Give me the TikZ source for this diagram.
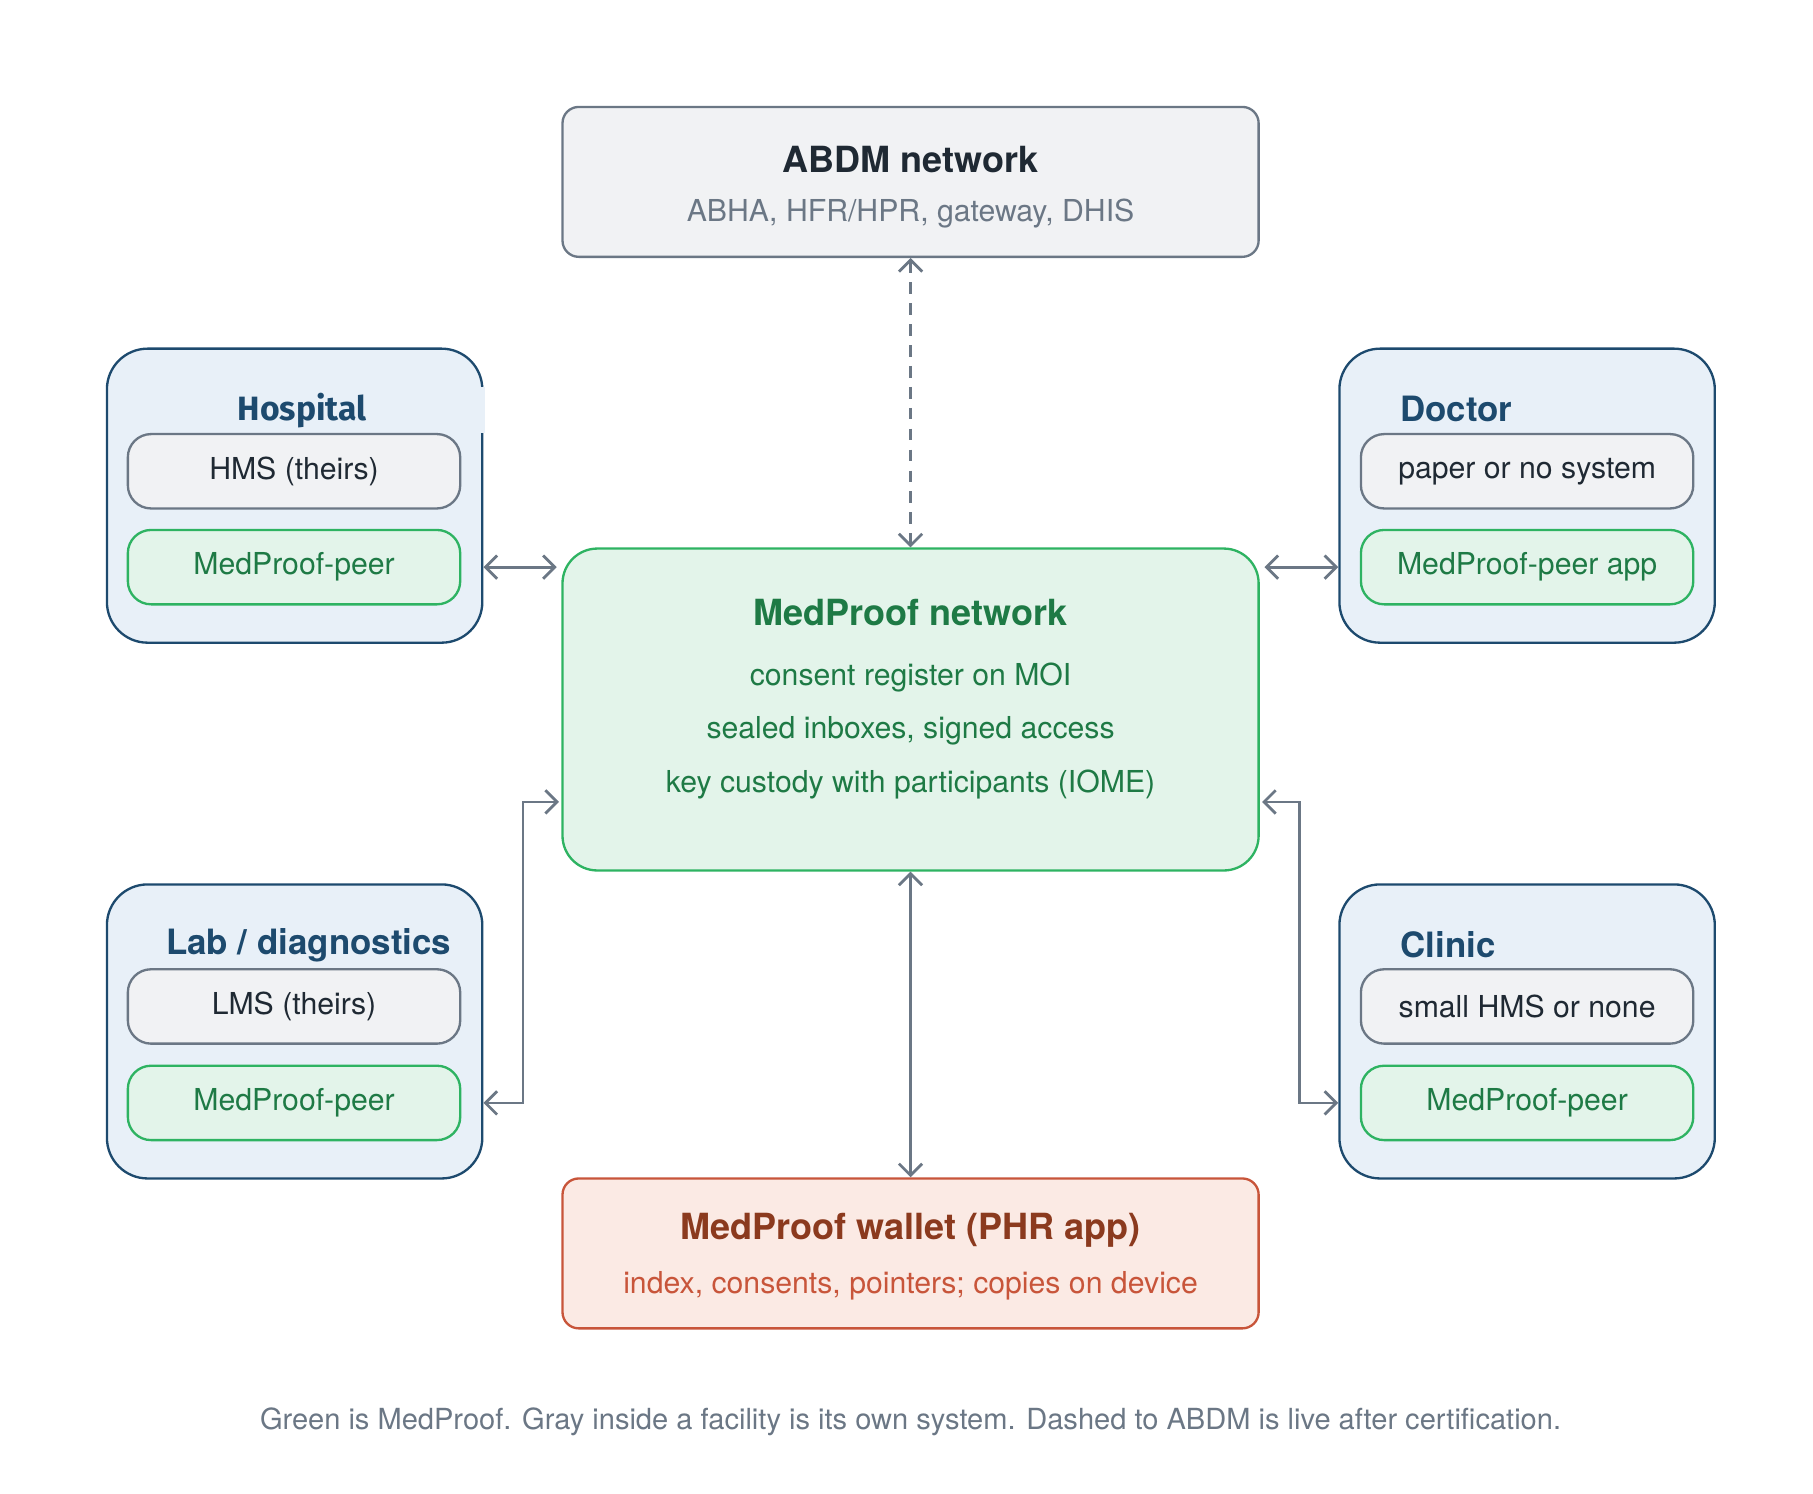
\documentclass[tikz,border=0pt]{standalone}
\usepackage{fontspec}
\setmainfont{TeX Gyre Heros}
\newfontfamily\titlefont{Fira Sans}
\usetikzlibrary{arrows.meta}

\definecolor{inkgray}{HTML}{6B7785}
\definecolor{boxgray}{HTML}{F1F2F4}
\definecolor{darktext}{HTML}{1F2933}
\definecolor{facblue}{HTML}{1D4A6E}
\definecolor{facfill}{HTML}{E8F0F8}
\definecolor{mpgreen}{HTML}{2EB362}
\definecolor{mpfill}{HTML}{E3F4EA}
\definecolor{mptext}{HTML}{1E7A45}
\definecolor{wlred}{HTML}{C8553A}
\definecolor{wlfill}{HTML}{FBEAE4}
\definecolor{wldark}{HTML}{8B3A1E}

\tikzset{
  bigbox/.style={draw, line width=1pt, rounded corners=7pt, minimum width=299.5pt, minimum height=64.5pt},
  facility/.style={draw=facblue, fill=facfill, line width=1pt, rounded corners=17.5pt, minimum width=161.5pt, minimum height=126.5pt},
  theirs/.style={draw=inkgray, fill=boxgray, line width=1pt, rounded corners=10pt, minimum width=143pt, minimum height=32pt, text=darktext, font=\fontsize{13}{15}\selectfont},
  peer/.style={draw=mpgreen, fill=mpfill, line width=1pt, rounded corners=10pt, minimum width=143pt, minimum height=32pt, text=mptext, font=\fontsize{13}{15}\selectfont},
  factitle/.style={text=facblue, font=\fontsize{15}{17}\selectfont\bfseries},
  link/.style={draw=inkgray, line width=1.2pt, {Straight Barb[length=5pt,width=10pt]}-{Straight Barb[length=5pt,width=10pt]}},
}

\begin{document}
\begin{tikzpicture}[x=0.5pt,y=0.5pt,yscale=-1]
\useasboundingbox (0,0) rectangle (1560,1285);

% ABDM
\node[bigbox, draw=inkgray, fill=boxgray] (abdm) at (783.5,156.5) {};
\node[text=darktext, font=\fontsize{15.5}{18}\selectfont\bfseries] (abdmtitle) at (783.5,137) {ABDM network};
\node[text=inkgray, font=\fontsize{13}{15}\selectfont] (abdmsub) at (783.5,184) {ABHA, HFR/HPR, gateway, DHIS};

% MedProof network
\node[bigbox, draw=mpgreen, fill=mpfill, rounded corners=15pt, minimum height=138.5pt] (net) at (783.5,610.5) {};
\node[text=mptext, font=\fontsize{15.5}{18}\selectfont\bfseries] (nettitle) at (783.5,527) {MedProof network};
\node[text=mptext, font=\fontsize{13}{15}\selectfont] (netl1) at (783.5,583) {consent register on MOI};
\node[text=mptext, font=\fontsize{13}{15}\selectfont] (netl2) at (783.5,629) {sealed inboxes, signed access};
\node[text=mptext, font=\fontsize{13}{15}\selectfont] (netl3) at (783.5,675) {key custody with participants (IOME)};

% wallet
\node[bigbox, draw=wlred, fill=wlfill] (wallet) at (783.5,1078.5) {};
\node[text=wldark, font=\fontsize{15.5}{18}\selectfont\bfseries] (wallettitle) at (783.5,1059) {MedProof wallet (PHR app)};
\node[text=wlred, font=\fontsize{13}{15}\selectfont] (walletsub) at (783.5,1106) {index, consents, pointers; copies on device};

% facilities
\node[facility] (hosp) at (253.5,426.5) {};
\fill[facfill] (115,333) rectangle (417,373);
\node[factitle, font=\titlefont\fontsize{14.5}{17}\selectfont\bfseries] (hosptitle) at (260,353) {Hospital};
\node[theirs] (hhms) at (253,405.5) {HMS (theirs)};
\node[peer] (hpeer) at (253,488) {MedProof-peer};

\node[facility] (doc) at (1314,426.5) {};
\node[factitle, anchor=west] (doctitle) at (1198,352) {Doctor};
\node[theirs] (dsys) at (1314,405.5) {paper or no system};
\node[peer] (dpeer) at (1314,488) {MedProof-peer app};

\node[facility] (lab) at (253.5,887.5) {};
\node[factitle, anchor=west] (labtitle) at (136,813) {Lab / diagnostics};
\node[theirs] (lhms) at (253,866) {LMS (theirs)};
\node[peer] (lpeer) at (253,949) {MedProof-peer};

\node[facility] (clinic) at (1314,887.5) {};
\node[factitle, anchor=west] (clinictitle) at (1198,813) {Clinic};
\node[theirs] (csys) at (1314,866) {small HMS or none};
\node[peer] (cpeer) at (1314,949) {MedProof-peer};

% links
\coordinate (netlw) at (481,690);
\coordinate (netre) at (1086,690);
\draw[link, dashed, dash pattern=on 5pt off 4pt] (abdm.south) -- (net.north);
\draw[link] (net.south) -- (wallet.north);
\draw[link] (hosp.east |- hpeer) -- ([xshift=-2pt]net.west |- hpeer);
\draw[link] ([xshift=2pt]net.east |- dpeer) -- (doc.west |- dpeer);
\draw[link] (lab.east |- lpeer) -- (450,949) |- (netlw);
\draw[link] (netre) -- (1118,690) |- (clinic.west |- cpeer);

% caption
\node[text=inkgray, font=\fontsize{12.5}{15}\selectfont] (caption) at (783.5,1223) {Green is MedProof. Gray inside a facility is its own system. Dashed to ABDM is live after certification.};
\end{tikzpicture}
\end{document}
